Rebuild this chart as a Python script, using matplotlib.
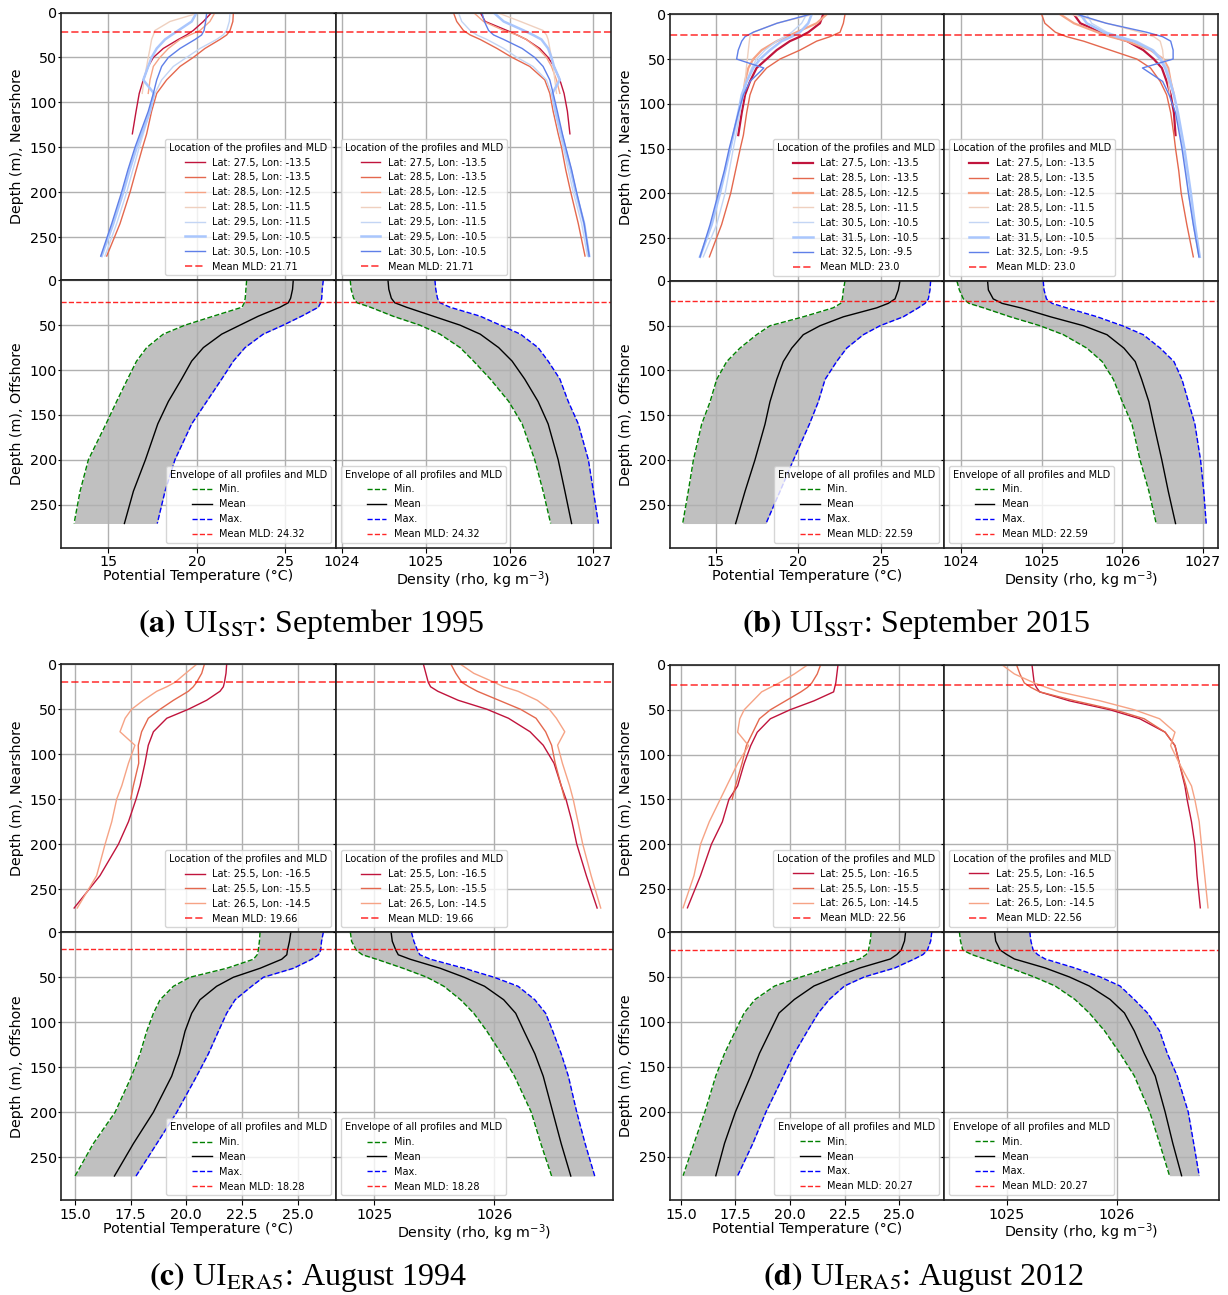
import matplotlib.pyplot as plt
import numpy as np

plt.rcParams['font.family'] = ['DejaVu Sans']
plt.rcParams['font.size'] = 10.3
plt.rcParams['axes.linewidth'] = 1.2
plt.rcParams['axes.edgecolor'] = '#222222'

W, H = 1228, 1295

# depth levels (m)
near_depth = [0, 10, 20, 25, 30, 40, 50, 60, 75, 90, 110, 135, 150, 175, 200, 235, 271]
off_depth = [0, 10, 20, 25, 30, 40, 50, 60, 75, 90, 110, 135, 160, 200, 235, 271]

# ---- (a) UI_SST, September 1995 ----
a_locs = [(27.5, -13.5), (28.5, -13.5), (28.5, -12.5), (28.5, -11.5),
          (29.5, -11.5), (29.5, -10.5), (30.5, -10.5)]
a_near_temp = [
    [20.85, 20.38, 19.81, 19.43, 18.96, 18.11, 17.55, 17.26, 16.98, 16.75, 16.57, 16.36],
    [22.08, 22.05, 21.89, 21.7, 21.32, 20.47, 19.81, 19.06, 18.3, 17.74, 17.45, 17.17, 16.94, 16.58, 16.23, 15.66, 14.91],
    [21.04, 20.75, 20.19, 19.62, 19.06, 18.4, 17.92, 17.55, 17.36, 17.26],
    [20.19, 18.49, 17.64, 17.55, 17.45, 17.36, 17.26, 17.17, 17.02, 16.92],
    [21.89, 21.85, 21.7, 21.5, 21.13, 20.19, 19.43, 18.68, 18.02, 17.64, 17.36, 16.98, 16.75, 16.39, 16.04, 15.47, 14.81],
    [20.0, 19.72, 18.96, 18.58, 18.21, 17.74, 17.45, 17.26, 16.98, 17.58, 17.36, 16.89, 16.61, 16.21, 15.85, 15.28, 14.62],
    [20.57, 20.51, 20.42, 20.28, 19.91, 19.06, 18.4, 18.02, 17.74, 17.55, 17.26, 16.79, 16.51, 16.11, 15.75, 15.19, 14.57],
]
a_near_dens = [
    [1025.65, 1025.71, 1025.97, 1026.09, 1026.2, 1026.36, 1026.46, 1026.53, 1026.6, 1026.65, 1026.69, 1026.72],
    [1025.33, 1025.37, 1025.45, 1025.53, 1025.65, 1025.85, 1026.03, 1026.24, 1026.42, 1026.48, 1026.52, 1026.58, 1026.62, 1026.67, 1026.73, 1026.82, 1026.9],
    [1025.57, 1025.69, 1025.93, 1026.09, 1026.2, 1026.34, 1026.44, 1026.5, 1026.56, 1026.6],
    [1025.85, 1026.13, 1026.4, 1026.44, 1026.46, 1026.48, 1026.5, 1026.52, 1026.54, 1026.56],
    [1025.39, 1025.43, 1025.53, 1025.61, 1025.73, 1025.93, 1026.09, 1026.28, 1026.44, 1026.5, 1026.54, 1026.6, 1026.64, 1026.7, 1026.76, 1026.86, 1026.93],
    [1025.81, 1025.93, 1026.17, 1026.28, 1026.38, 1026.46, 1026.5, 1026.53, 1026.6, 1026.51, 1026.55, 1026.62, 1026.66, 1026.73, 1026.79, 1026.89, 1026.95],
    [1025.67, 1025.7, 1025.75, 1025.81, 1025.93, 1026.15, 1026.3, 1026.4, 1026.48, 1026.52, 1026.57, 1026.63, 1026.67, 1026.74, 1026.8, 1026.89, 1026.95],
]
a_off_temp_min = [22.83, 22.79, 22.75, 22.70, 22.57, 20.94, 19.34, 18.11, 17.17, 16.60, 16.09, 15.47, 14.87, 13.87, 13.40, 13.06]
a_off_temp_mean = [25.47, 25.43, 25.32, 25.19, 24.72, 23.49, 22.45, 21.42, 20.38, 19.72, 19.15, 18.40, 17.80, 17.10, 16.42, 15.91]
a_off_temp_max = [27.17, 27.11, 27.08, 27.02, 26.89, 25.94, 24.90, 23.77, 22.74, 22.08, 21.42, 20.57, 19.72, 18.77, 18.21, 17.77]
a_off_dens_min = [1024.10, 1024.11, 1024.14, 1024.18, 1024.34, 1024.61, 1024.93, 1025.17, 1025.41, 1025.57, 1025.77, 1025.99, 1026.15, 1026.30, 1026.40, 1026.49]
a_off_dens_mean = [1024.55, 1024.56, 1024.59, 1024.63, 1024.77, 1025.09, 1025.41, 1025.65, 1025.87, 1026.03, 1026.18, 1026.34, 1026.46, 1026.58, 1026.66, 1026.74]
a_off_dens_max = [1025.11, 1025.12, 1025.14, 1025.17, 1025.29, 1025.65, 1025.89, 1026.13, 1026.34, 1026.46, 1026.60, 1026.70, 1026.82, 1026.94, 1027.00, 1027.06]
a_mld = (21.71, 24.32)

# ---- (b) UI_SST, September 2015 ----
b_locs = [(27.5, -13.5), (28.5, -13.5), (28.5, -12.5), (28.5, -11.5),
          (30.5, -10.5), (31.5, -10.5), (32.5, -9.5)]
b_near_temp = [
    [21.5, 21.3, 20.6, 20.09, 19.48, 18.68, 18.07, 17.46, 17.06, 16.76, 16.56, 16.35],
    [22.82, 22.72, 22.52, 21.91, 21.1, 20.09, 18.88, 18.07, 17.36, 17.06, 16.86, 16.66, 16.47, 16.18, 15.89, 15.34, 14.6],
    [21.71, 21.1, 19.89, 19.28, 18.68, 17.77, 17.26, 16.96, 16.76, 16.66],
    [20.9, 18.68, 17.26, 17.06, 17.02, 16.96, 16.9, 16.84, 16.76, 16.66],
    [20.49, 20.19, 19.59, 19.18, 18.68, 17.97, 17.46, 17.16, 16.86, 16.66, 16.45, 16.21, 16.05, 15.8, 15.55, 15.04, 14.23],
    [20.8, 20.59, 20.09, 19.59, 18.98, 18.27, 17.67, 17.26, 16.86, 16.56, 16.35, 16.05, 15.87, 15.56, 15.24, 14.74, 14.03],
    [20.7, 18.7, 17.26, 16.76, 16.56, 16.35, 16.25, 17.9, 17.06, 16.66, 16.35, 16.01, 15.8, 15.5, 15.14, 14.64, 14.03],
]
b_near_dens = [
    [1025.4, 1025.48, 1025.73, 1025.89, 1026.06, 1026.26, 1026.39, 1026.49, 1026.55, 1026.6, 1026.64, 1026.66],
    [1025.0, 1025.04, 1025.17, 1025.31, 1025.52, 1025.85, 1026.18, 1026.35, 1026.47, 1026.55, 1026.6, 1026.64, 1026.66, 1026.7, 1026.73, 1026.8, 1026.88],
    [1025.23, 1025.4, 1025.69, 1025.85, 1026.06, 1026.35, 1026.51, 1026.57, 1026.6, 1026.64],
    [1025.36, 1025.81, 1026.22, 1026.39, 1026.47, 1026.5, 1026.51, 1026.54, 1026.57, 1026.59],
    [1025.56, 1025.62, 1025.81, 1025.98, 1026.18, 1026.39, 1026.49, 1026.55, 1026.6, 1026.64, 1026.68, 1026.72, 1026.75, 1026.79, 1026.82, 1026.88, 1026.95],
    [1025.48, 1025.56, 1025.77, 1025.93, 1026.14, 1026.37, 1026.47, 1026.53, 1026.59, 1026.64, 1026.69, 1026.74, 1026.77, 1026.81, 1026.85, 1026.9, 1026.96],
    [1025.44, 1025.8, 1026.3, 1026.5, 1026.6, 1026.63, 1026.63, 1026.25, 1026.5, 1026.58, 1026.66, 1026.71, 1026.74, 1026.78, 1026.82, 1026.88, 1026.95],
]
b_off_temp_min = [22.82, 22.72, 22.66, 22.56, 22.10, 20.29, 18.27, 17.46, 16.45, 15.65, 15.04, 14.64, 14.13, 13.63, 13.32, 12.98]
b_off_temp_mean = [26.15, 26.05, 25.85, 25.44, 24.74, 22.72, 21.30, 20.29, 19.59, 19.08, 18.68, 18.27, 17.97, 17.36, 16.76, 16.19]
b_off_temp_max = [28.01, 27.97, 27.87, 27.67, 27.26, 26.35, 24.94, 23.93, 22.92, 22.31, 21.61, 21.20, 20.66, 19.69, 18.88, 18.03]
b_off_dens_min = [1023.95, 1023.98, 1024.03, 1024.10, 1024.28, 1024.61, 1024.98, 1025.27, 1025.56, 1025.75, 1025.89, 1026.00, 1026.12, 1026.22, 1026.33, 1026.42]
b_off_dens_mean = [1024.33, 1024.34, 1024.40, 1024.51, 1024.74, 1025.11, 1025.52, 1025.81, 1026.02, 1026.16, 1026.24, 1026.33, 1026.39, 1026.49, 1026.57, 1026.66]
b_off_dens_max = [1025.02, 1025.03, 1025.06, 1025.13, 1025.31, 1025.69, 1026.00, 1026.26, 1026.47, 1026.64, 1026.74, 1026.82, 1026.90, 1026.97, 1027.01, 1027.04]
b_mld = (23.0, 22.59)

# ---- (c) UI_ERA5, August 1994 ----
c_locs = [(25.5, -16.5), (25.5, -15.5), (26.5, -14.5)]
c_near_temp = [
    [21.81, 21.78, 21.71, 21.66, 21.51, 20.91, 20.09, 19.12, 18.52, 18.29, 18.14, 17.92, 17.74, 17.4, 16.95, 16.12, 14.96],
    [20.81, 20.69, 20.46, 20.31, 20.09, 19.42, 18.82, 18.29, 17.99, 17.84, 17.86, 17.62, 17.5],
    [20.46, 19.97, 19.49, 19.12, 18.67, 18.07, 17.54, 17.25, 17.02, 17.69, 17.4, 17.1, 16.87, 16.65, 16.35, 15.97, 15.1],
]
c_near_dens = [
    [1025.41, 1025.43, 1025.45, 1025.47, 1025.53, 1025.7, 1025.94, 1026.12, 1026.3, 1026.41, 1026.5, 1026.56, 1026.6, 1026.65, 1026.69, 1026.77, 1026.86],
    [1025.64, 1025.68, 1025.73, 1025.79, 1025.86, 1026.04, 1026.22, 1026.35, 1026.43, 1026.48, 1026.51, 1026.56, 1026.59],
    [1025.72, 1025.83, 1026.0, 1026.08, 1026.2, 1026.36, 1026.46, 1026.52, 1026.59, 1026.53, 1026.57, 1026.63, 1026.66, 1026.7, 1026.74, 1026.81, 1026.89],
]
c_off_temp_min = [23.31, 23.28, 23.23, 23.18, 23.01, 21.81, 20.16, 19.42, 18.82, 18.52, 18.22, 17.92, 17.54, 16.80, 15.82, 15.00]
c_off_temp_mean = [24.69, 24.63, 24.54, 24.51, 24.28, 23.31, 22.11, 21.36, 20.61, 20.24, 19.94, 19.69, 19.34, 18.52, 17.62, 16.77]
c_off_temp_max = [26.15, 26.07, 26.03, 25.93, 25.63, 24.81, 23.46, 22.93, 22.19, 21.81, 21.44, 20.99, 20.46, 19.57, 18.67, 17.74]
c_off_dens_min = [1024.80, 1024.81, 1024.85, 1024.90, 1025.02, 1025.24, 1025.44, 1025.58, 1025.72, 1025.83, 1025.94, 1026.06, 1026.17, 1026.31, 1026.39, 1026.48]
c_off_dens_mean = [1025.14, 1025.15, 1025.18, 1025.20, 1025.30, 1025.55, 1025.75, 1025.92, 1026.08, 1026.18, 1026.25, 1026.34, 1026.41, 1026.49, 1026.56, 1026.64]
c_off_dens_max = [1025.31, 1025.33, 1025.36, 1025.38, 1025.47, 1025.75, 1026.00, 1026.20, 1026.34, 1026.43, 1026.49, 1026.56, 1026.62, 1026.69, 1026.76, 1026.84]
c_mld = (19.66, 18.28)

# ---- (d) UI_ERA5, August 2012 ----
d_locs = [(25.5, -16.5), (25.5, -15.5), (26.5, -14.5)]
d_near_temp = [
    [22.2, 22.15, 22.1, 22.05, 22.0, 21.1, 20.0, 19.1, 18.5, 18.2, 17.9, 17.6, 17.2, 16.9, 16.4, 15.9, 15.3],
    [21.4, 21.25, 21.0, 20.8, 20.5, 19.8, 19.1, 18.6, 18.3, 18.0, 17.8, 17.5, 17.35],
    [20.8, 20.2, 19.5, 19.1, 18.7, 18.3, 17.9, 17.7, 17.6, 18.1, 17.6, 17.1, 16.8, 16.3, 15.9, 15.6, 15.1],
]
d_near_dens = [
    [1025.23, 1025.24, 1025.25, 1025.27, 1025.3, 1025.57, 1025.94, 1026.21, 1026.44, 1026.53, 1026.57, 1026.62, 1026.64, 1026.68, 1026.71, 1026.73, 1026.76],
    [1025.09, 1025.12, 1025.16, 1025.22, 1025.3, 1025.62, 1025.98, 1026.25, 1026.44, 1026.53, 1026.57, 1026.63, 1026.66],
    [1024.96, 1025.07, 1025.25, 1025.36, 1025.48, 1025.85, 1026.16, 1026.39, 1026.53, 1026.49, 1026.57, 1026.68, 1026.71, 1026.75, 1026.77, 1026.8, 1026.83],
]
d_off_temp_min = [23.72, 23.68, 23.6, 23.5, 23.2, 21.8, 20.5, 19.3, 18.4, 17.9, 17.5, 17.0, 16.6, 16.1, 15.6, 15.1]
d_off_temp_mean = [25.3, 25.25, 25.1, 24.9, 24.6, 23.2, 22.1, 21.1, 20.2, 19.5, 19.1, 18.6, 18.2, 17.5, 17.0, 16.6]
d_off_temp_max = [26.5, 26.45, 26.3, 26.1, 25.7, 24.8, 23.4, 22.5, 21.8, 21.3, 20.8, 20.2, 19.7, 18.9, 18.3, 17.6]
d_off_dens_min = [1024.57, 1024.58, 1024.6, 1024.68, 1024.8, 1025.03, 1025.25, 1025.44, 1025.62, 1025.75, 1025.89, 1026.03, 1026.16, 1026.3, 1026.39, 1026.48]
d_off_dens_mean = [1024.89, 1024.9, 1024.94, 1025.0, 1025.07, 1025.35, 1025.57, 1025.75, 1025.94, 1026.07, 1026.16, 1026.25, 1026.35, 1026.44, 1026.51, 1026.59]
d_off_dens_max = [1025.21, 1025.22, 1025.24, 1025.28, 1025.35, 1025.62, 1025.85, 1026.03, 1026.16, 1026.28, 1026.39, 1026.46, 1026.55, 1026.65, 1026.7, 1026.75]
d_mld = (22.56, 20.27)

# line colours / widths of the nearshore profiles
seven_colors = ['#c0143c', '#e4684e', '#f6a385', '#efd0bf', '#c3d5f4', '#a9c6fd', '#5f7fe8']
three_colors = seven_colors[:3]

fig = plt.figure(figsize=(W / 100, H / 100), dpi=100)


def px_axes(x0, x1, y0, y1, **kw):
    return fig.add_axes([x0 / W, 1 - y1 / H, (x1 - x0) / W, (y1 - y0) / H], **kw)


def draw_panel(box, tlim, dlim, tticks, dticks, tfmt, locs, colors, widths,
               near_temp, near_dens, off_temp, off_dens, mld):
    x0, xm, x1, y0, ym, y1 = box
    ax_nt = px_axes(x0, xm, y0, ym)
    ax_nd = px_axes(xm, x1, y0, ym, sharey=ax_nt)
    ax_ot = px_axes(x0, xm, ym, y1, sharex=ax_nt)
    ax_od = px_axes(xm, x1, ym, y1, sharex=ax_nd, sharey=ax_ot)

    # nearshore profiles
    for (lat, lon), col, lw, t, r in zip(locs, colors, widths, near_temp, near_dens):
        lab = f'Lat: {lat}, Lon: {lon}'
        ax_nt.plot(t, near_depth[:len(t)], color=col, lw=lw, label=lab)
        ax_nd.plot(r, near_depth[:len(r)], color=col, lw=lw, label=lab)
    for ax in (ax_nt, ax_nd):
        ax.axhline(mld[0], color='red', ls='--', lw=1.4, alpha=0.65,
                   label=f'Mean MLD: {mld[0]}')

    # offshore envelopes
    for ax, (lo, mid, hi) in ((ax_ot, off_temp), (ax_od, off_dens)):
        ax.fill_betweenx(off_depth, lo, hi, color='silver', lw=0)
        ax.plot(lo, off_depth, color='green', ls='--', lw=1.0, label='Min.')
        ax.plot(mid, off_depth, color='black', lw=1.0, label='Mean')
        ax.plot(hi, off_depth, color='blue', ls='--', lw=1.0, label='Max.')
        ax.axhline(mld[1], color='red', ls='--', lw=1.0, alpha=0.85,
                   label=f'Mean MLD: {mld[1]}')

    lkw = dict(fontsize=7, title_fontsize=7)
    ax_nt.legend(loc='lower right', title='Location of the profiles and MLD', **lkw)
    ax_nd.legend(loc='lower left', title='Location of the profiles and MLD', **lkw)
    ax_ot.legend(loc='lower right', title='Envelope of all profiles and MLD', **lkw)
    ax_od.legend(loc='lower left', title='Envelope of all profiles and MLD', **lkw)

    for ax in (ax_nt, ax_ot):
        ax.set_ylim(298, 0)
        ax.set_yticks(range(0, 251, 50))
    ax_ot.set_xlim(*tlim)
    ax_ot.set_xticks(tticks)
    ax_ot.set_xticklabels([tfmt.format(v) for v in tticks])
    ax_od.set_xlim(*dlim)
    ax_od.set_xticks(dticks)

    for ax in (ax_nt, ax_nd, ax_ot, ax_od):
        ax.grid(True, color='#b0b0b0', lw=1.0)
        ax.tick_params(axis='y', length=2, pad=1)
        ax.tick_params(axis='x', pad=2)
    ax_nt.tick_params(labelbottom=False)
    ax_nd.tick_params(labelbottom=False, labelleft=False)
    ax_od.tick_params(labelleft=False)

    ax_nt.set_ylabel('Depth (m), Nearshore')
    ax_ot.set_ylabel('Depth (m), Offshore')
    ax_ot.set_xlabel('Potential Temperature (°C)', labelpad=0)
    ax_od.set_xlabel(r'Density (rho, kg m$^{-3}$)', labelpad=0)


draw_panel((61, 336, 611, 12.5, 280.3, 547.7), (12.32, 27.89), (1023.93, 1027.21),
           [15, 20, 25], [1024, 1025, 1026, 1027], '{:g}', a_locs, seven_colors,
           [1, 1, 1, 1, 1, 1.8, 1], a_near_temp, a_near_dens,
           (a_off_temp_min, a_off_temp_mean, a_off_temp_max),
           (a_off_dens_min, a_off_dens_mean, a_off_dens_max), a_mld)
draw_panel((670.3, 944, 1218.3, 14.3, 281, 547.7), (12.23, 28.82), (1023.79, 1027.19),
           [15, 20, 25], [1024, 1025, 1026, 1027], '{:g}', b_locs, seven_colors,
           [1.6, 1, 1.6, 1, 1, 1.8, 1], b_near_temp, b_near_dens,
           (b_off_temp_min, b_off_temp_mean, b_off_temp_max),
           (b_off_dens_min, b_off_dens_mean, b_off_dens_max), b_mld)
draw_panel((61, 336, 612.7, 664.3, 932.3, 1200.3), (14.37, 26.72), (1024.68, 1026.99),
           [15, 17.5, 20, 22.5, 25], [1025, 1026], '{:.1f}', c_locs, three_colors,
           [1, 1, 1], c_near_temp, c_near_dens,
           (c_off_temp_min, c_off_temp_mean, c_off_temp_max),
           (c_off_dens_min, c_off_dens_mean, c_off_dens_max), c_mld)
draw_panel((670, 944, 1219, 665, 932, 1200), (14.5, 27.06), (1024.43, 1026.93),
           [15, 17.5, 20, 22.5, 25], [1025, 1026], '{:.1f}', d_locs, three_colors,
           [1, 1, 1], d_near_temp, d_near_dens,
           (d_off_temp_min, d_off_temp_mean, d_off_temp_max),
           (d_off_dens_min, d_off_dens_mean, d_off_dens_max), d_mld)

captions = [
    (311, 624, r'$\mathbf{(a)}$ UI$_{\mathrm{SST}}$: September 1995'),
    (916, 624, r'$\mathbf{(b)}$ UI$_{\mathrm{SST}}$: September 2015'),
    (308, 1277, r'$\mathbf{(c)}$ UI$_{\mathrm{ERA5}}$: August 1994'),
    (923, 1277, r'$\mathbf{(d)}$ UI$_{\mathrm{ERA5}}$: August 2012'),
]
for cx, cy, txt in captions:
    fig.text(cx / W, 1 - cy / H, txt, ha='center', va='center', fontsize=23,
             family='Liberation Serif', math_fontfamily='stix')

fig.savefig('out.png', dpi=100)
